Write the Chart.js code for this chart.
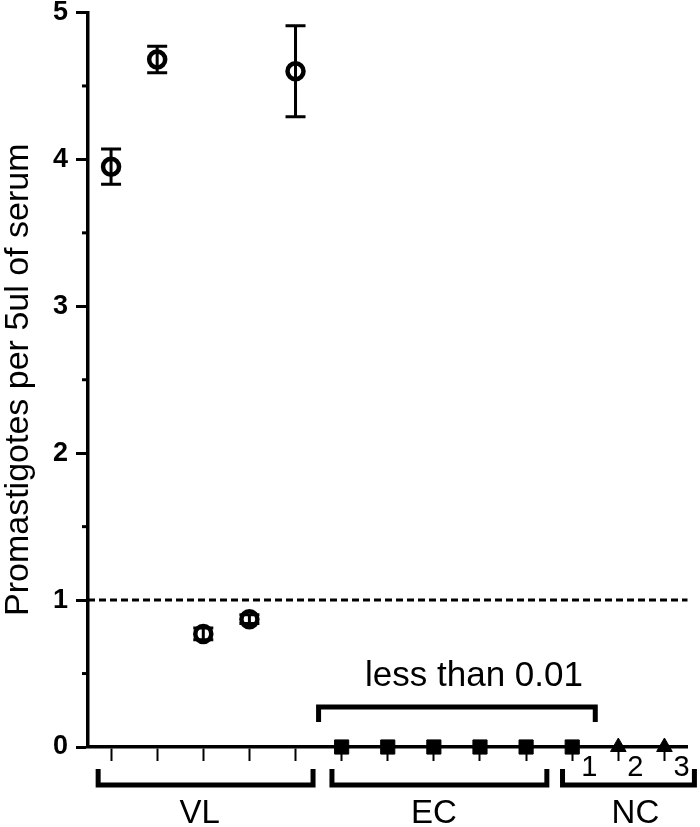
<!DOCTYPE html>
<html>
<head>
<meta charset="utf-8">
<script src="https://cdn.jsdelivr.net/npm/chart.js@4.4.1/dist/chart.umd.min.js"></script>
<style>
  body { margin: 0; background: #fff; }
  #wrap { width: 700px; height: 827px; }
</style>
</head>
<body>
<div id="wrap"><canvas id="chart" width="700" height="827"></canvas></div>
<script>
// sera along the x axis: 5 VL, 5 EC, 3 NC
const categories = ['VL1', 'VL2', 'VL3', 'VL4', 'VL5', 'EC1', 'EC2', 'EC3', 'EC4', 'EC5', 'NC1', 'NC2', 'NC3'];
const vlCats = ['VL1', 'VL2', 'VL3', 'VL4', 'VL5'];
const vlValues = [3.95, 4.68, 0.77, 0.87, 4.60];
const vlErrors = [0.12, 0.09, 0.04, 0.03, 0.31];
const squareCats = ['EC1', 'EC2', 'EC3', 'EC4', 'EC5', 'NC1'];
const squareValues = [0, 0, 0, 0, 0, 0];
const triangleCats = ['NC2', 'NC3'];
const triangleValues = [0, 0];
const groupNames = ['VL', 'EC', 'NC'];
const ncCats = ['NC1', 'NC2', 'NC3'];
const ncLabels = ['1', '2', '3'];
const cutoffValue = 1;
const lowNote = 'less than 0.01';

// annotation geometry (category units / pixel offsets), not data
const bracketFrom = [-0.28, 4.79, 9.79];
const bracketTo = [4.38, 9.45, 12.65];
const groupLabelAt = [1.92, 7.0, 11.37];
const lowBracket = { from: 4.5, to: 10.5, top: 0.272, end: 0.17, textX: 7.87, textY: 0.48 };

const FONT = '"Liberation Sans", Arial, sans-serif';

const extras = {
  id: 'extras',
  beforeDatasetsDraw(chart) {
    const { ctx, chartArea } = chart;
    const y = chart.scales.y;
    ctx.save();
    // cutoff line
    ctx.strokeStyle = '#000';
    ctx.lineWidth = 3;
    ctx.setLineDash([7, 4]);
    ctx.beginPath();
    ctx.moveTo(chartArea.left, y.getPixelForValue(cutoffValue));
    ctx.lineTo(chartArea.right, y.getPixelForValue(cutoffValue));
    ctx.stroke();
    ctx.setLineDash([]);
    // minor y ticks
    for (let v = 0.5; v < 5; v += 1) {
      const py = y.getPixelForValue(v);
      ctx.beginPath();
      ctx.moveTo(chartArea.left - 6, py);
      ctx.lineTo(chartArea.left, py);
      ctx.stroke();
    }
    ctx.restore();
  },
  afterDatasetsDraw(chart) {
    const { ctx, chartArea } = chart;
    const x = chart.scales.x, y = chart.scales.y;
    const catPx = v => x.left + (v + 0.5) * (x.width / categories.length);
    ctx.save();
    ctx.strokeStyle = '#000';
    ctx.fillStyle = '#000';
    // error bars
    ctx.lineWidth = 3;
    vlValues.forEach((v, i) => {
      const px = x.getPixelForValue(categories.indexOf(vlCats[i]));
      const top = y.getPixelForValue(v + vlErrors[i]);
      const bot = y.getPixelForValue(v - vlErrors[i]);
      ctx.beginPath();
      ctx.moveTo(px, top); ctx.lineTo(px, bot);
      ctx.moveTo(px - 10, top); ctx.lineTo(px + 10, top);
      ctx.moveTo(px - 10, bot); ctx.lineTo(px + 10, bot);
      ctx.stroke();
    });
    // group brackets under the axis
    const b = chartArea.bottom;
    ctx.lineWidth = 5;
    groupNames.forEach((name, i) => {
      const x0 = catPx(bracketFrom[i]), x1 = catPx(bracketTo[i]);
      ctx.beginPath();
      ctx.moveTo(x0, b + 22); ctx.lineTo(x0, b + 38); ctx.lineTo(x1, b + 38); ctx.lineTo(x1, b + 22);
      ctx.stroke();
    });
    ctx.font = '33px ' + FONT;
    ctx.textAlign = 'center';
    ctx.textBaseline = 'middle';
    groupNames.forEach((name, i) => {
      ctx.fillText(name, catPx(groupLabelAt[i]), b + 67);
    });
    // NC numbering
    ctx.font = '29px ' + FONT;
    ncLabels.forEach((t, i) => {
      ctx.fillText(t, x.getPixelForValue(categories.indexOf(ncCats[i])) + 17, b + 21);
    });
    // "less than 0.01" bracket
    const lx0 = catPx(lowBracket.from), lx1 = catPx(lowBracket.to);
    const ly = y.getPixelForValue(lowBracket.top), le = y.getPixelForValue(lowBracket.end);
    ctx.lineWidth = 5;
    ctx.beginPath();
    ctx.moveTo(lx0, le); ctx.lineTo(lx0, ly); ctx.lineTo(lx1, ly); ctx.lineTo(lx1, le);
    ctx.stroke();
    ctx.font = '35px ' + FONT;
    ctx.fillText(lowNote, catPx(lowBracket.textX), y.getPixelForValue(lowBracket.textY));
    ctx.restore();
  }
};

new Chart(document.getElementById('chart'), {
  type: 'line',
  data: {
    labels: categories,
    datasets: [
      {
        data: vlCats.map((c, i) => ({ x: c, y: vlValues[i] })),
        showLine: false,
        pointStyle: 'circle',
        pointRadius: 8,
        pointBorderWidth: 4.5,
        pointBorderColor: '#000',
        pointBackgroundColor: 'rgba(0,0,0,0)',
        clip: false
      },
      {
        data: squareCats.map((c, i) => ({ x: c, y: squareValues[i] })),
        showLine: false,
        pointStyle: 'rect',
        pointRadius: 10,
        pointBorderWidth: 1,
        pointBorderColor: '#000',
        pointBackgroundColor: '#000',
        clip: false
      },
      {
        data: triangleCats.map((c, i) => ({ x: c, y: triangleValues[i] })),
        showLine: false,
        pointStyle: 'triangle',
        pointRadius: 9,
        pointBorderWidth: 1,
        pointBorderColor: '#000',
        pointBackgroundColor: '#000',
        clip: false
      }
    ]
  },
  options: {
    responsive: false,
    animation: false,
    layout: { padding: { top: 11, right: 12, left: 0, bottom: 0 } },
    plugins: { legend: { display: false }, tooltip: { enabled: false } },
    scales: {
      x: {
        type: 'category',
        offset: true,
        border: { display: true, color: '#000', width: 3.5 },
        grid: { display: true, offset: false, drawOnChartArea: false, drawTicks: true, tickLength: 14, tickWidth: 2, tickColor: '#000' },
        ticks: { callback: () => '', autoSkip: false },
        afterFit: s => { s.height = 80; s.paddingLeft = 0; s.paddingRight = 0; }
      },
      y: {
        min: 0,
        max: 5,
        border: { display: true, color: '#000', width: 3.5 },
        grid: {
          display: true, drawOnChartArea: false, drawTicks: true, tickLength: 12, tickWidth: 3,
          tickColor: c => Number.isInteger(c.tick.value) ? '#000' : 'rgba(0,0,0,0)'
        },
        ticks: {
          stepSize: 0.5,
          color: '#000',
          padding: 8,
          font: { family: FONT, size: 27, weight: 'bold', lineHeight: 0.9 },
          callback: v => Number.isInteger(v) ? String(v) : ''
        },
        title: {
          display: true,
          text: 'Promastigotes per 5ul of serum',
          color: '#000',
          padding: 0,
          font: { family: FONT, size: 34, lineHeight: 1.1 }
        },
        afterFit: s => { s.width = 88; s.paddingTop = 0; s.paddingBottom = 0; }
      }
    }
  },
  plugins: [extras]
});
</script>
</body>
</html>
